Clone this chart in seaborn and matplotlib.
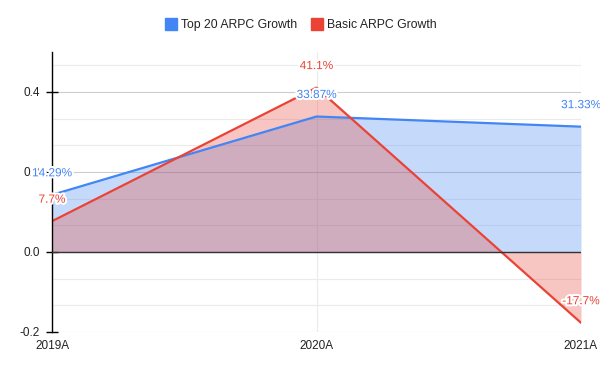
import pandas as pd
import matplotlib.pyplot as plt
import matplotlib.patheffects as pe
from matplotlib.lines import Line2D
from matplotlib.ticker import MultipleLocator, FormatStrFormatter
import seaborn as sns

# -------------------------
# Data
# -------------------------
years = ["2019A", "2020A", "2021A"]
top20_growth = [0.1429, 0.3387, 0.3133]
basic_growth = [0.077, 0.411, -0.177]
top20_labels = ["14.29%", "33.87%", "31.33%"]
basic_labels = ["7.7%", "41.1%", "-17.7%"]

series_names = ["Top 20 ARPC Growth", "Basic ARPC Growth"]
palette = {"Top 20 ARPC Growth": "#4285F4", "Basic ARPC Growth": "#EA4335"}

# -------------------------
# Configuration
# -------------------------
sns.set_theme(style="white")
plt.rcParams["font.family"] = ["Liberation Sans", "DejaVu Sans"]

pos = list(range(len(years)))
df = pd.DataFrame({
    "pos": pos * 2,
    "value": top20_growth + basic_growth,
    "series": [series_names[0]] * 3 + [series_names[1]] * 3,
})

fig, ax = plt.subplots(figsize=(6, 3.71), dpi=100)
fig.subplots_adjust(left=52 / 600, right=581 / 600, bottom=1 - 332 / 371, top=1 - 52 / 371)

# -------------------------
# Areas and lines
# -------------------------
ax.fill_between(pos, 0, top20_growth, color=palette[series_names[0]], alpha=0.3, lw=0)
ax.fill_between(pos, 0, basic_growth, color=palette[series_names[1]], alpha=0.3, lw=0)
sns.lineplot(data=df, x="pos", y="value", hue="series", palette=palette,
             linewidth=1.6, legend=False, ax=ax)
ax.axhline(0, color="#333333", lw=1, zorder=3)

# data labels
for vals, labels, name in [(top20_growth, top20_labels, series_names[0]),
                           (basic_growth, basic_labels, series_names[1])]:
    for x, v, lab in zip(pos, vals, labels):
        ax.annotate(lab, (x, v), xytext=(0, 15.5), textcoords="offset points",
                    ha="center", va="center", fontsize=8.5, color=palette[name],
                    annotation_clip=False, zorder=5,
                    path_effects=[pe.withStroke(linewidth=3, foreground="white")])

# -------------------------
# Axes
# -------------------------
ax.set_xlim(0, 2)
ax.set_ylim(-0.2, 0.5)
ax.set_xticks(pos)
ax.set_xticklabels(years)
ax.yaxis.set_major_locator(MultipleLocator(0.2))
ax.yaxis.set_minor_locator(MultipleLocator(0.2 / 3))
ax.yaxis.set_major_formatter(FormatStrFormatter("%.1f"))
ax.set_xlabel("")
ax.set_ylabel("")

ax.set_axisbelow(True)
ax.grid(axis="y", which="major", color="#cccccc", lw=0.8)
ax.grid(axis="y", which="minor", color="#ebebeb", lw=0.8)
ax.grid(axis="x", which="major", color="#ebebeb", lw=0.8)

for s in ["top", "right", "bottom"]:
    ax.spines[s].set_visible(False)
ax.spines["left"].set_color("black")
ax.spines["left"].set_linewidth(1)

ax.tick_params(axis="y", which="major", direction="inout", length=8, width=1,
               color="black", labelsize=8.5, labelcolor="#222222", pad=5, left=True)
ax.tick_params(axis="y", which="minor", left=False)
ax.tick_params(axis="x", length=0, labelsize=8.5, labelcolor="#222222", pad=6)

# legend
handles = [Line2D([], [], marker="s", linestyle="", markersize=8.5,
                  markerfacecolor=palette[n], markeredgecolor=palette[n]) for n in series_names]
fig.legend(handles, series_names, loc="center", bbox_to_anchor=(301 / 600, 1 - 25 / 371),
           ncol=2, frameon=False, fontsize=8.8, handletextpad=0.35, columnspacing=1.2,
           handlelength=0.9, labelcolor="#222222")

plt.savefig("out.png", dpi=100)
plt.close()
